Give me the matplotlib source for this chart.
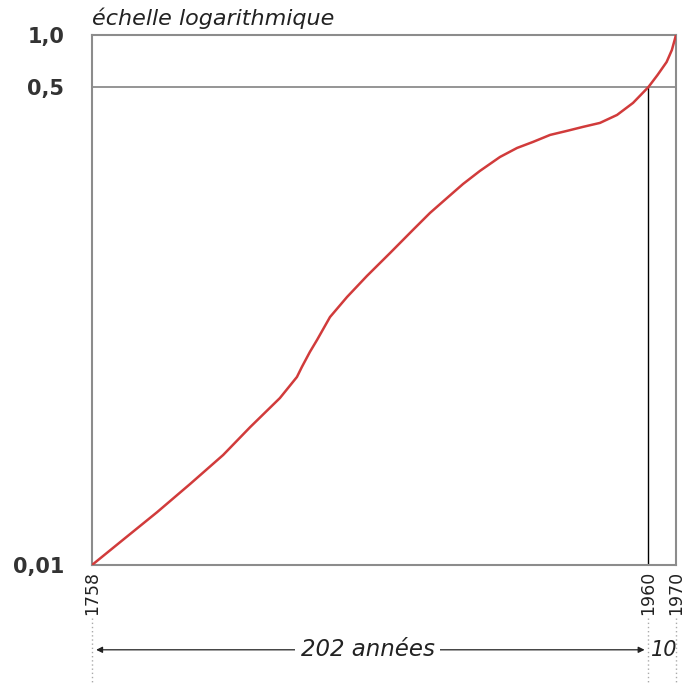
import matplotlib
matplotlib.use("Agg")
import matplotlib.pyplot as plt
import numpy as np

# curve (year, value on the log-like axis)
years = [1758, 1769.3, 1781.6, 1793.6, 1805.6, 1815.4, 1826.2, 1832.4, 1834.2,
         1837.1, 1839.7, 1844.4, 1850.6, 1857.8, 1866.2, 1874.5, 1880.7,
         1886.9, 1892.7, 1898.8, 1906.1, 1912.3, 1918.1, 1924.3, 1930.4,
         1936.2, 1942.4, 1948.6, 1954.4, 1960, 1963.3, 1966.6, 1968.5, 1970]
values = [0.01, 0.0123, 0.0154, 0.0194, 0.0246, 0.0309, 0.0392, 0.0466, 0.0506,
          0.0572, 0.0631, 0.0761, 0.0897, 0.1065, 0.1285, 0.1552, 0.1784,
          0.2017, 0.2261, 0.2515, 0.2820, 0.3036, 0.3190, 0.3378, 0.3491,
          0.3607, 0.3727, 0.3978, 0.4389, 0.5, 0.587, 0.698, 0.819, 1.0]

ytick_vals = [0.01, 0.5, 1.0]
ytick_labels = ["0,01", "0,5", "1,0"]
xtick_vals = [1758, 1960, 1970]
xtick_labels = ["1758", "1960", "1970"]

# the drawn scale is logarithmic but squeezed above 0.5
L05 = np.log10(0.5)
K = 0.614


def forward(y):
    l = np.log10(np.clip(y, 1e-9, None))
    return np.where(l <= L05, l, L05 + (l - L05) * K)


def inverse(v):
    v = np.asarray(v, dtype=float)
    l = np.where(v <= L05, v, L05 + (v - L05) / K)
    return 10 ** l


fig = plt.figure(figsize=(6.91, 6.84), dpi=100)
ax = fig.add_axes([92 / 691, 119 / 684, 584 / 691, 530 / 684])
ax.set_yscale("function", functions=(forward, inverse))
ax.set_xlim(1758, 1970)
ax.set_ylim(0.01, 1.0)

ax.plot(years, values, color="#d13b3b", lw=1.8, solid_capstyle="round",
        solid_joinstyle="round", zorder=3)
ax.axhline(0.5, color="#8c8c8c", lw=1.3, zorder=2)
ax.plot([1960, 1960], [0.01, 0.5], color="black", lw=1.0, zorder=2)

for s in ax.spines.values():
    s.set_color("#8c8c8c")
    s.set_linewidth(1.5)

ax.set_yticks(ytick_vals)
ax.set_yticklabels(ytick_labels, fontsize=15, fontweight="bold", color="#333333")
ax.yaxis.set_minor_locator(matplotlib.ticker.NullLocator())
ax.set_xticks(xtick_vals)
ax.set_xticklabels(xtick_labels, rotation=90, fontsize=12.5, color="#222222")
ax.tick_params(axis="y", length=0, pad=20)
ax.tick_params(axis="x", length=0, pad=4)

ax.text(0.0, 1.012, "échelle logarithmique", transform=ax.transAxes,
        fontsize=16, style="italic", color="#222222", va="bottom", ha="left")

# dotted guides and the span arrows under the axis
trans = matplotlib.transforms.blended_transform_factory(ax.transData, ax.transAxes)
for xv in xtick_vals:
    ax.plot([xv, xv], [-0.1, -0.23], transform=trans, clip_on=False,
            color="#aaaaaa", lw=1.0, ls=(0, (1, 2)))

ax.annotate("", xy=(1759.5, -0.16), xytext=(1958.6, -0.16),
            xycoords=trans, textcoords=trans,
            arrowprops=dict(arrowstyle="<|-|>", color="#222222", lw=0.9,
                            mutation_scale=9, shrinkA=0, shrinkB=0))
ax.text(1858, -0.16, "202 années", transform=trans, ha="center", va="center",
        fontsize=16.5, style="italic", color="#222222",
        bbox=dict(facecolor="white", edgecolor="none", pad=4))
ax.text(1960.8, -0.16, "10", transform=trans, ha="left", va="center",
        fontsize=15, style="italic", color="#222222")

fig.savefig("out.png", dpi=100)
